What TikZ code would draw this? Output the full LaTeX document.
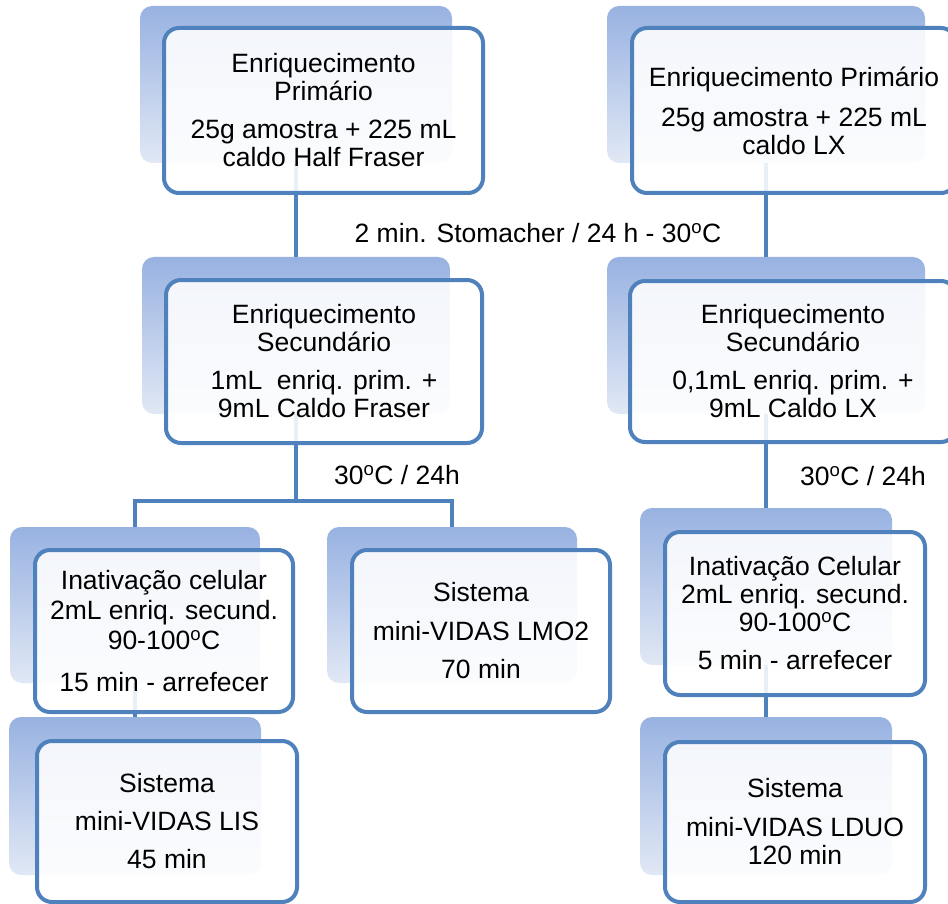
\documentclass[tikz,border=0pt]{standalone}
\usepackage{fontspec}
\setmainfont{Liberation Sans}
\definecolor{edgeblue}{RGB}{79,129,189}
\definecolor{bgtop}{RGB}{152,178,225}
\definecolor{bgbot}{RGB}{225,232,245}
\newcommand{\boxfont}{\fontsize{26.5}{28}\selectfont\setlength{\lineskiplimit}{-100pt}}
\newcommand{\boxfontwide}{\fontsize{26.5}{30}\selectfont\setlength{\lineskiplimit}{-100pt}}
\tikzset{
  bgbox/.style={rounded corners=12pt, top color=bgtop, bottom color=bgbot, draw=none, inner sep=0pt, outer sep=0pt},
  front/.style={rounded corners=15pt, draw=edgeblue, line width=4pt, fill=white, fill opacity=0.88, text opacity=1, inner sep=0pt, outer sep=0pt, align=center, font=\boxfont},
  conn/.style={draw=edgeblue, line width=4pt},
  lbl/.style={font=\boxfont, inner sep=0pt}
}
\begin{document}
\begin{tikzpicture}[x=1pt,y=-1pt]
\useasboundingbox (0,0) rectangle (948,904);
% background shapes
\node[bgbox, minimum width=312pt, minimum height=157pt] (b1) at (296,84.5) {};
\node[bgbox, minimum width=318pt, minimum height=157pt] (b2) at (766,84.5) {};
\node[bgbox, minimum width=308pt, minimum height=157pt] (b3) at (296,335.5) {};
\node[bgbox, minimum width=318pt, minimum height=157pt] (b4) at (766,335.5) {};
\node[bgbox, minimum width=250pt, minimum height=156pt] (b5) at (135,605) {};
\node[bgbox, minimum width=250pt, minimum height=156pt] (b6) at (452,605) {};
\node[bgbox, minimum width=252pt, minimum height=158pt] (b7) at (135,796) {};
\node[bgbox, minimum width=252pt, minimum height=157pt] (b8) at (766,586.5) {};
\node[bgbox, minimum width=252pt, minimum height=158pt] (b9) at (766,796) {};
% connectors
\coordinate (fork) at (296,501);
\draw[conn] (b1.south) -- (b3.north);
\draw[conn] (b2.south) -- (b4.north);
\draw[conn] (b3.south) -- (fork);
\draw[conn] (b5.north) |- (fork) -| (b6.north);
\draw[conn] (b5.south) -- (b7.north);
\draw[conn] (b4.south) -- (b8.north);
\draw[conn] (b8.south) -- (b9.north);
% front boxes
\node[front, minimum width=319pt, minimum height=165pt] (f1) at (323.5,110.5)
  {Enriquecimento\\Primário\\[10pt]25g amostra + 225 mL\\caldo Half Fraser};
\node[front, minimum width=324pt, minimum height=165pt] (f2) at (794,110.5)
  {Enriquecimento Primário\\[12pt]25g amostra + 225 mL\\caldo LX};
\node[front, minimum width=316pt, minimum height=163pt] (f3) at (324,361.5)
  {Enriquecimento\\Secundário\\[10pt]1mL\ \ enriq. prim. +\\9mL Caldo Fraser};
\node[front, minimum width=326pt, minimum height=161pt] (f4) at (793,361.5)
  {Enriquecimento\\Secundário\\[10pt]0,1mL enriq. prim. +\\9mL Caldo LX};
\node[front, minimum width=258pt, minimum height=162pt, font=\boxfontwide] (f5) at (164,631)
  {Inativação celular\\2mL enriq. secund.\\90-100\textsuperscript{o}C\\[12pt]15 min - arrefecer};
\node[front, minimum width=258pt, minimum height=162pt] (f6) at (481,631)
  {Sistema\\[11pt]mini-VIDAS LMO2\\[10pt]70 min};
\node[front, minimum width=260pt, minimum height=161pt] (f7) at (167,821.5)
  {Sistema\\[10pt]mini-VIDAS LIS\\[10pt]45 min};
\node[front, minimum width=260pt, minimum height=163pt] (f8) at (795,613.5)
  {Inativação Celular\\2mL enriq. secund.\\90-100\textsuperscript{o}C\\[10pt]5 min - arrefecer};
\node[front, minimum width=260pt, minimum height=160pt] (f9) at (795,822)
  {Sistema\\[11pt]mini-VIDAS LDUO\\120 min};
% labels
\node[lbl] (l1) at (538,233) {2 min. Stomacher / 24 h - 30\textsuperscript{o}C};
\node[lbl] (l2) at (397,475) {30\textsuperscript{o}C / 24h};
\node[lbl] (l3) at (863,476) {30\textsuperscript{o}C / 24h};
\end{tikzpicture}
\end{document}
